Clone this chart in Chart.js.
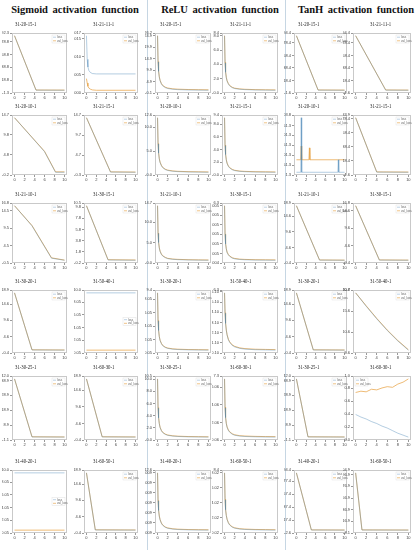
<!DOCTYPE html>
<html>
<head>
<meta charset="utf-8">
<script src="https://cdn.jsdelivr.net/npm/chart.js@4.4.0/dist/chart.umd.min.js"></script>
<style>
    body { margin: 0; background: #fff; width: 420px; height: 550px; position: relative; overflow: hidden; font-family: "Liberation Serif", serif; }
    .hd { position: absolute; top: 4px; width: 150px; text-align: center; font-weight: bold; font-size: 10.5px; word-spacing: 2px; white-space: nowrap; color: #111; }
    .sep { position: absolute; top: 0; width: 1px; height: 550px; background: #c6d6e3; }
    canvas { position: absolute; }
</style>
</head>
<body>
<div class="hd" style="left:0px">Sigmoid activation function</div>
<div class="hd" style="left:145px">ReLU activation function</div>
<div class="hd" style="left:281px">TanH activation function</div>
<div class="sep" style="left:147px"></div>
<div class="sep" style="left:285px"></div>

<script>
// ten training epochs on every x axis
const xTicks = [0, 2, 4, 6, 8, 10];
const seriesNames = ['loss', 'val_loss'];
const panelNames = ['31-20-15-1', '31-21-11-1', '31-20-10-1', '31-21-15-1', '31-21-10-1', '31-30-15-1',
                    '31-30-20-1', '31-50-40-1', '31-30-25-1', '31-60-30-1', '31-40-20-1', '31-60-50-1'];

// ---- Sigmoid ----
const sigmoidEpochs = [
    [0, 4.3, 10],
    [0, 0.15, 0.3, 0.5, 0.8, 1.2, 2, 10],
    [0, 6, 8.2, 10],
    [0, 4.9, 10],
    [0, 3.5, 7.4, 10],
    [0, 4.4, 10],
    [0, 3.5, 10],
    [0, 10],
    [0, 3.5, 10],
    [0, 3.2, 10],
    [0, 10],
    [0, 1.8, 10]
];
const sigmoidTrain = [
    [88, 3.2, 3.0],
    [0.016, 0.0095, 0.0074, 0.0064, 0.0059, 0.0056, 0.0055, 0.0055],
    [14, 5.6, 0.5, 0.5],
    [14, 0.4, 0.35],
    [16, 10.2, 0.9, 0.3],
    [10, 0.3, 0.25],
    [18, 0.5, 0.45],
    [9.5, 9.5],
    [40, 1.0, 0.9],
    [18, 0.5, 0.45],
    [9.5, 9.5],
    [18, 0.5, 0.45]
];
const sigmoidVal = [
    [88, 3.4, 3.3],
    [0.0042, 0.003, 0.0021, 0.0016, 0.0013, 0.0011, 0.001, 0.001],
    [14, 5.7, 0.6, 0.6],
    [14, 0.45, 0.4],
    [16, 10.3, 1.0, 0.35],
    [10, 0.35, 0.3],
    [18, 0.55, 0.5],
    [0.5, 0.5],
    [40, 1.1, 1.0],
    [18, 0.55, 0.5],
    [0.5, 0.5],
    [18, 0.55, 0.5]
];

// ---- ReLU ----
const reluEpochs = [0, 0.1, 0.2, 0.35, 0.5, 0.75, 1, 1.5, 2, 3, 4, 6, 8, 10];
const reluTrain = [
    [25, 13.5, 9.4, 6.8, 5.3, 3.9, 3.1, 2.3, 1.9, 1.55, 1.4, 1.25, 1.18, 1.12],
    [8, 4.2, 2.9, 2.1, 1.65, 1.25, 1.0, 0.75, 0.62, 0.52, 0.47, 0.42, 0.4, 0.38],
    [12, 6.5, 4.6, 3.3, 2.6, 1.95, 1.55, 1.15, 0.95, 0.78, 0.7, 0.63, 0.6, 0.57],
    [9, 4.6, 3.2, 2.3, 1.8, 1.35, 1.1, 0.82, 0.68, 0.56, 0.51, 0.46, 0.44, 0.42],
    [14, 7.2, 5.0, 3.6, 2.8, 2.1, 1.7, 1.3, 1.05, 0.88, 0.8, 0.72, 0.68, 0.65],
    [6, 3.0, 2.0, 1.45, 1.1, 0.85, 0.7, 0.52, 0.44, 0.37, 0.34, 0.31, 0.3, 0.29],
    [9, 4.8, 3.4, 2.45, 1.9, 1.45, 1.15, 0.88, 0.74, 0.62, 0.57, 0.52, 0.5, 0.48],
    [6, 4.0, 3.0, 2.3, 1.85, 1.4, 1.15, 0.85, 0.7, 0.55, 0.48, 0.42, 0.4, 0.38],
    [10, 5.2, 3.6, 2.6, 2.0, 1.5, 1.2, 0.9, 0.75, 0.62, 0.56, 0.5, 0.48, 0.46],
    [7, 3.7, 2.6, 1.9, 1.5, 1.15, 0.95, 0.72, 0.6, 0.5, 0.46, 0.42, 0.4, 0.39],
    [12, 6.4, 4.5, 3.3, 2.6, 1.95, 1.55, 1.15, 0.95, 0.78, 0.7, 0.63, 0.6, 0.58],
    [8, 4.4, 3.1, 2.3, 1.8, 1.35, 1.08, 0.8, 0.66, 0.54, 0.49, 0.44, 0.42, 0.4]
];
const reluVal = [
    [25, 13.7, 9.6, 7.0, 5.5, 4.1, 3.3, 2.5, 2.1, 1.75, 1.6, 1.45, 1.38, 1.32],
    [8, 4.3, 3.0, 2.2, 1.72, 1.32, 1.06, 0.8, 0.67, 0.57, 0.52, 0.47, 0.45, 0.43],
    [12, 6.6, 4.7, 3.4, 2.7, 2.05, 1.62, 1.22, 1.02, 0.85, 0.77, 0.7, 0.67, 0.64],
    [9, 4.7, 3.3, 2.4, 1.87, 1.42, 1.16, 0.88, 0.73, 0.61, 0.56, 0.51, 0.49, 0.47],
    [14, 7.3, 5.1, 3.7, 2.9, 2.2, 1.78, 1.38, 1.12, 0.95, 0.87, 0.79, 0.75, 0.72],
    [6, 3.05, 2.05, 1.5, 1.15, 0.9, 0.74, 0.56, 0.48, 0.41, 0.38, 0.35, 0.34, 0.33],
    [9, 4.9, 3.5, 2.5, 1.96, 1.5, 1.2, 0.93, 0.79, 0.67, 0.62, 0.57, 0.55, 0.53],
    [6, 4.05, 3.05, 2.35, 1.9, 1.45, 1.2, 0.9, 0.75, 0.6, 0.53, 0.47, 0.45, 0.43],
    [10, 5.3, 3.7, 2.7, 2.08, 1.57, 1.26, 0.96, 0.8, 0.67, 0.61, 0.55, 0.53, 0.51],
    [7, 3.8, 2.65, 1.95, 1.55, 1.2, 1.0, 0.77, 0.65, 0.55, 0.51, 0.47, 0.45, 0.44],
    [12, 6.5, 4.6, 3.4, 2.7, 2.02, 1.62, 1.22, 1.02, 0.85, 0.77, 0.7, 0.67, 0.65],
    [8, 4.5, 3.15, 2.35, 1.85, 1.4, 1.13, 0.85, 0.71, 0.59, 0.54, 0.49, 0.47, 0.45]
];

// ---- TanH ----
const tanhEpochs = [
    [0, 4.5, 10],
    [0, 5.7, 10],
    [0, 0.9, 1.0, 1.1, 2.6, 2.7, 2.8, 8.6, 8.7, 8.8, 10],
    [0, 4.0, 10],
    [0, 4.8, 10],
    [0, 4.5, 10],
    [0, 3.5, 10],
    [0, 2, 4, 6, 8, 10],
    [0, 2.4, 10],
    [0, 1, 2, 3, 4, 5, 6, 7, 8, 9, 10],
    [0, 3.1, 10],
    [0, 1.2, 10]
];
const tanhTrain = [
    [90, 3.0, 2.8],
    [90, 3.0, 2.8],
    [15, 15, 290, 15, 15, 15, 15, 15, 78, 15, 15],
    [80, 2.5, 2.3],
    [18, 0.5, 0.45],
    [16, 0.4, 0.35],
    [18, 0.5, 0.45],
    [20, 16.8, 13.8, 11.0, 8.5, 6.3],
    [40, 1.0, 0.9],
    [0.40, 0.36, 0.33, 0.29, 0.26, 0.22, 0.19, 0.15, 0.11, 0.08, 0.05],
    [90, 2.0, 1.8],
    [100, 2.0, 1.8]
];
const tanhVal = [
    [90, 3.3, 3.1],
    [90, 3.3, 3.1],
    [78, 78, 147, 78, 78, 138, 78, 78, 78, 78, 78],
    [80, 2.8, 2.6],
    [18, 0.55, 0.5],
    [16, 0.45, 0.4],
    [18, 0.55, 0.5],
    [20, 16.9, 13.9, 11.1, 8.6, 6.4],
    [40, 1.1, 1.0],
    [0.74, 0.76, 0.75, 0.79, 0.78, 0.81, 0.83, 0.82, 0.87, 0.90, 0.95],
    [90, 2.2, 2.0],
    [100, 2.2, 2.0]
];

// layout: plot-area edges for the 6 sub-columns and 6 rows
const colPlots = [[12, 67], [84, 138], [155, 211], [222, 278], [294, 347], [353, 411]];
const rowPlots = [[33, 93], [115, 175], [203, 263], [290, 353], [376, 440], [470, 533]];
const labelLeft = [15, 93, 160, 230, 298, 370];
const sigmoidSpots = ['tr', 'tr', 'tr', 'tr', 'tr', 'tr', 'tr', 'r', 'tr', 'tr', 'r', 'tr'];
const tanhSpots = ['tr', 'tr', 'tr', 'tr', 'tr', 'tr', 'tr', 'tr', 'tr', 'tl', 'tr', 'tr'];

const BLUE = 'rgba(70,130,180,0.45)';
const ORANGE = 'rgba(232,165,75,0.85)';
const HEAD = 14; // room above each plot for its name

const framePlugin = {
    id: 'framePlugin',
    beforeDatasetsDraw(chart, args, opts) {
        const { ctx, chartArea: a } = chart;
        ctx.save();
        ctx.strokeStyle = '#c9c9c9';
        ctx.lineWidth = 1;
        ctx.strokeRect(Math.round(a.left) + 0.5, Math.round(a.top) + 0.5, Math.round(a.right - a.left) - 1, Math.round(a.bottom - a.top) - 1);
        // panel name, condensed serif like the figure
        ctx.translate(opts.nameX, 6);
        ctx.scale(0.68, 1);
        ctx.fillStyle = '#222';
        ctx.font = '7px "Liberation Serif"';
        ctx.textBaseline = 'middle';
        ctx.fillText(opts.name, 0, 0);
        ctx.restore();
    },
    afterDatasetsDraw(chart, args, opts) {
        const { ctx, chartArea: a } = chart;
        const w = 13, h = 8;
        let x = a.right - w - 2, y = a.top + 2;
        if (opts.spot === 'tl') { x = a.left + 2; }
        if (opts.spot === 'r') { y = (a.top + a.bottom) / 2 - h / 2; }
        ctx.save();
        ctx.fillStyle = 'rgba(255,255,255,0.85)';
        ctx.fillRect(x, y, w, h);
        ctx.strokeStyle = '#e2e2e2';
        ctx.lineWidth = 0.5;
        ctx.strokeRect(x, y, w, h);
        chart.data.datasets.forEach((ds, i) => {
            const ly = y + 2.2 + i * 3.6;
            ctx.strokeStyle = ds.borderColor;
            ctx.lineWidth = 0.8;
            ctx.beginPath(); ctx.moveTo(x + 1, ly); ctx.lineTo(x + 4, ly); ctx.stroke();
            ctx.fillStyle = '#666';
            ctx.font = '3px "Liberation Sans"';
            ctx.textBaseline = 'middle';
            ctx.fillText(ds.label, x + 5, ly);
        });
        ctx.restore();
    }
};

function makePanel(col, row, name, xs, trn, val, spot) {
    const [pl, pr] = colPlots[col];
    const [pt, pb] = rowPlots[row];

    const cv = document.createElement('canvas');
    const left = pl - 10, top = pt - 1 - HEAD;
    const w = pr - pl + 11, h = pb - pt + 9 + HEAD;
    cv.width = w; cv.height = h;
    cv.style.left = left + 'px';
    cv.style.top = top + 'px';
    cv.style.width = w + 'px';
    cv.style.height = h + 'px';
    document.body.appendChild(cv);

    const tickFont = { size: 4, family: 'Liberation Sans' };
    new Chart(cv, {
        type: 'line',
        data: {
            datasets: [
                { label: seriesNames[0], data: xs.map((x, i) => ({ x, y: trn[i] })), borderColor: BLUE, borderWidth: 0.9, pointRadius: 0, tension: 0 },
                { label: seriesNames[1], data: xs.map((x, i) => ({ x, y: val[i] })), borderColor: ORANGE, borderWidth: 0.9, pointRadius: 0, tension: 0 }
            ]
        },
        options: {
            responsive: false,
            animation: false,
            events: [],
            layout: { padding: { top: 1 + HEAD, right: 1, left: 0, bottom: 0 } },
            plugins: {
                legend: { display: false },
                tooltip: { enabled: false },
                framePlugin: { spot, name, nameX: labelLeft[col] - left }
            },
            scales: {
                x: {
                    type: 'linear', min: -0.5, max: 10.5,
                    afterBuildTicks: s => { s.ticks = xTicks.map(v => ({ value: v })); },
                    afterFit: s => { s.height = 8; },
                    grid: { drawOnChartArea: false, tickLength: 2, color: '#999' },
                    border: { display: false },
                    ticks: { font: tickFont, color: '#444', padding: 0, maxRotation: 0, autoSkip: false }
                },
                y: {
                    type: 'linear', bounds: 'data',
                    afterDataLimits: s => { const r = s.max - s.min; s.min -= r * 0.05; s.max += r * 0.05; },
                    afterFit: s => { s.width = 10; },
                    grid: { drawOnChartArea: false, tickLength: 2, color: '#999' },
                    border: { display: false },
                    ticks: { font: tickFont, color: '#444', padding: 1, maxTicksLimit: 8, includeBounds: false }
                }
            }
        },
        plugins: [framePlugin]
    });
}

for (let i = 0; i < 12; i++) {
    const row = Math.floor(i / 2), sub = i % 2;
    makePanel(sub, row, panelNames[i], sigmoidEpochs[i], sigmoidTrain[i], sigmoidVal[i], sigmoidSpots[i]);
    makePanel(2 + sub, row, panelNames[i], reluEpochs, reluTrain[i], reluVal[i], 'tr');
    makePanel(4 + sub, row, panelNames[i], tanhEpochs[i], tanhTrain[i], tanhVal[i], tanhSpots[i]);
}
</script>
</body>
</html>
